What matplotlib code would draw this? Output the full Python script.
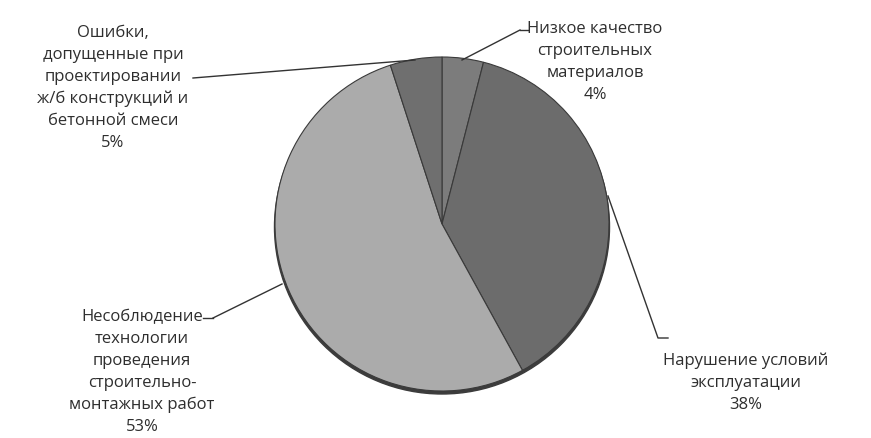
import matplotlib
matplotlib.use("Agg")
import matplotlib.pyplot as plt
from matplotlib.patches import Ellipse

plt.rcParams['font.family'] = ['Open Sans', 'DejaVu Sans']

labels = [
    "Низкое качество\nстроительных\nматериалов",
    "Нарушение условий\nэксплуатации",
    "Несоблюдение\nтехнологии\nпроведения\nстроительно-\nмонтажных работ",
    "Ошибки,\nдопущенные при\nпроектировании\nж/б конструкций и\nбетонной смеси",
]
values = [4, 38, 53, 5]
colors = ["#7c7c7c", "#6c6c6c", "#ababab", "#6f6f6f"]

W, H = 871, 439
fig = plt.figure(figsize=(W / 100, H / 100), dpi=100)
ax = fig.add_axes([0, 0, 1, 1])

def Y(y):
    return H - y

cx, cy, r = 442, 225, 167

# 3D rim underneath
ax.add_patch(Ellipse((cx, Y(cy + 3)), 2 * r + 1, 2 * r, color="#3c3c3c", zorder=0))

ax.pie(values, colors=colors, startangle=90, counterclock=False,
       center=(cx, Y(cy)), radius=r, frame=True,
       wedgeprops=dict(edgecolor="#3a3a3a", linewidth=0.8))

ax.set_xlim(0, W)
ax.set_ylim(0, H)
ax.set_aspect('auto')
ax.axis('off')

txt = dict(ha="center", va="center", fontsize=12, color="#2e2e2e", linespacing=1.5)
blocks = [
    (595, 62, labels[0] + f"\n{values[0]}%"),
    (746, 383, labels[1] + f"\n{values[1]}%"),
    (142, 372, labels[2] + f"\n{values[2]}%"),
    (113, 88, labels[3] + f"\n{values[3]}%"),
]
for x, y, s in blocks:
    ax.text(x, Y(y), s, **txt)

lc = dict(color="#333333", linewidth=1.0)
# leader lines
ax.plot([520, 528], [Y(31), Y(31)], **lc)
ax.plot([520, 462], [Y(31), Y(61)], **lc)
ax.plot([608, 658, 668], [Y(197), Y(339), Y(339)], **lc)
ax.plot([213, 203], [Y(319), Y(319)], **lc)
ax.plot([213, 282], [Y(319), Y(285)], **lc)
ax.plot([193, 415], [Y(79), Y(61)], **lc)

fig.savefig("out.png", dpi=100)
